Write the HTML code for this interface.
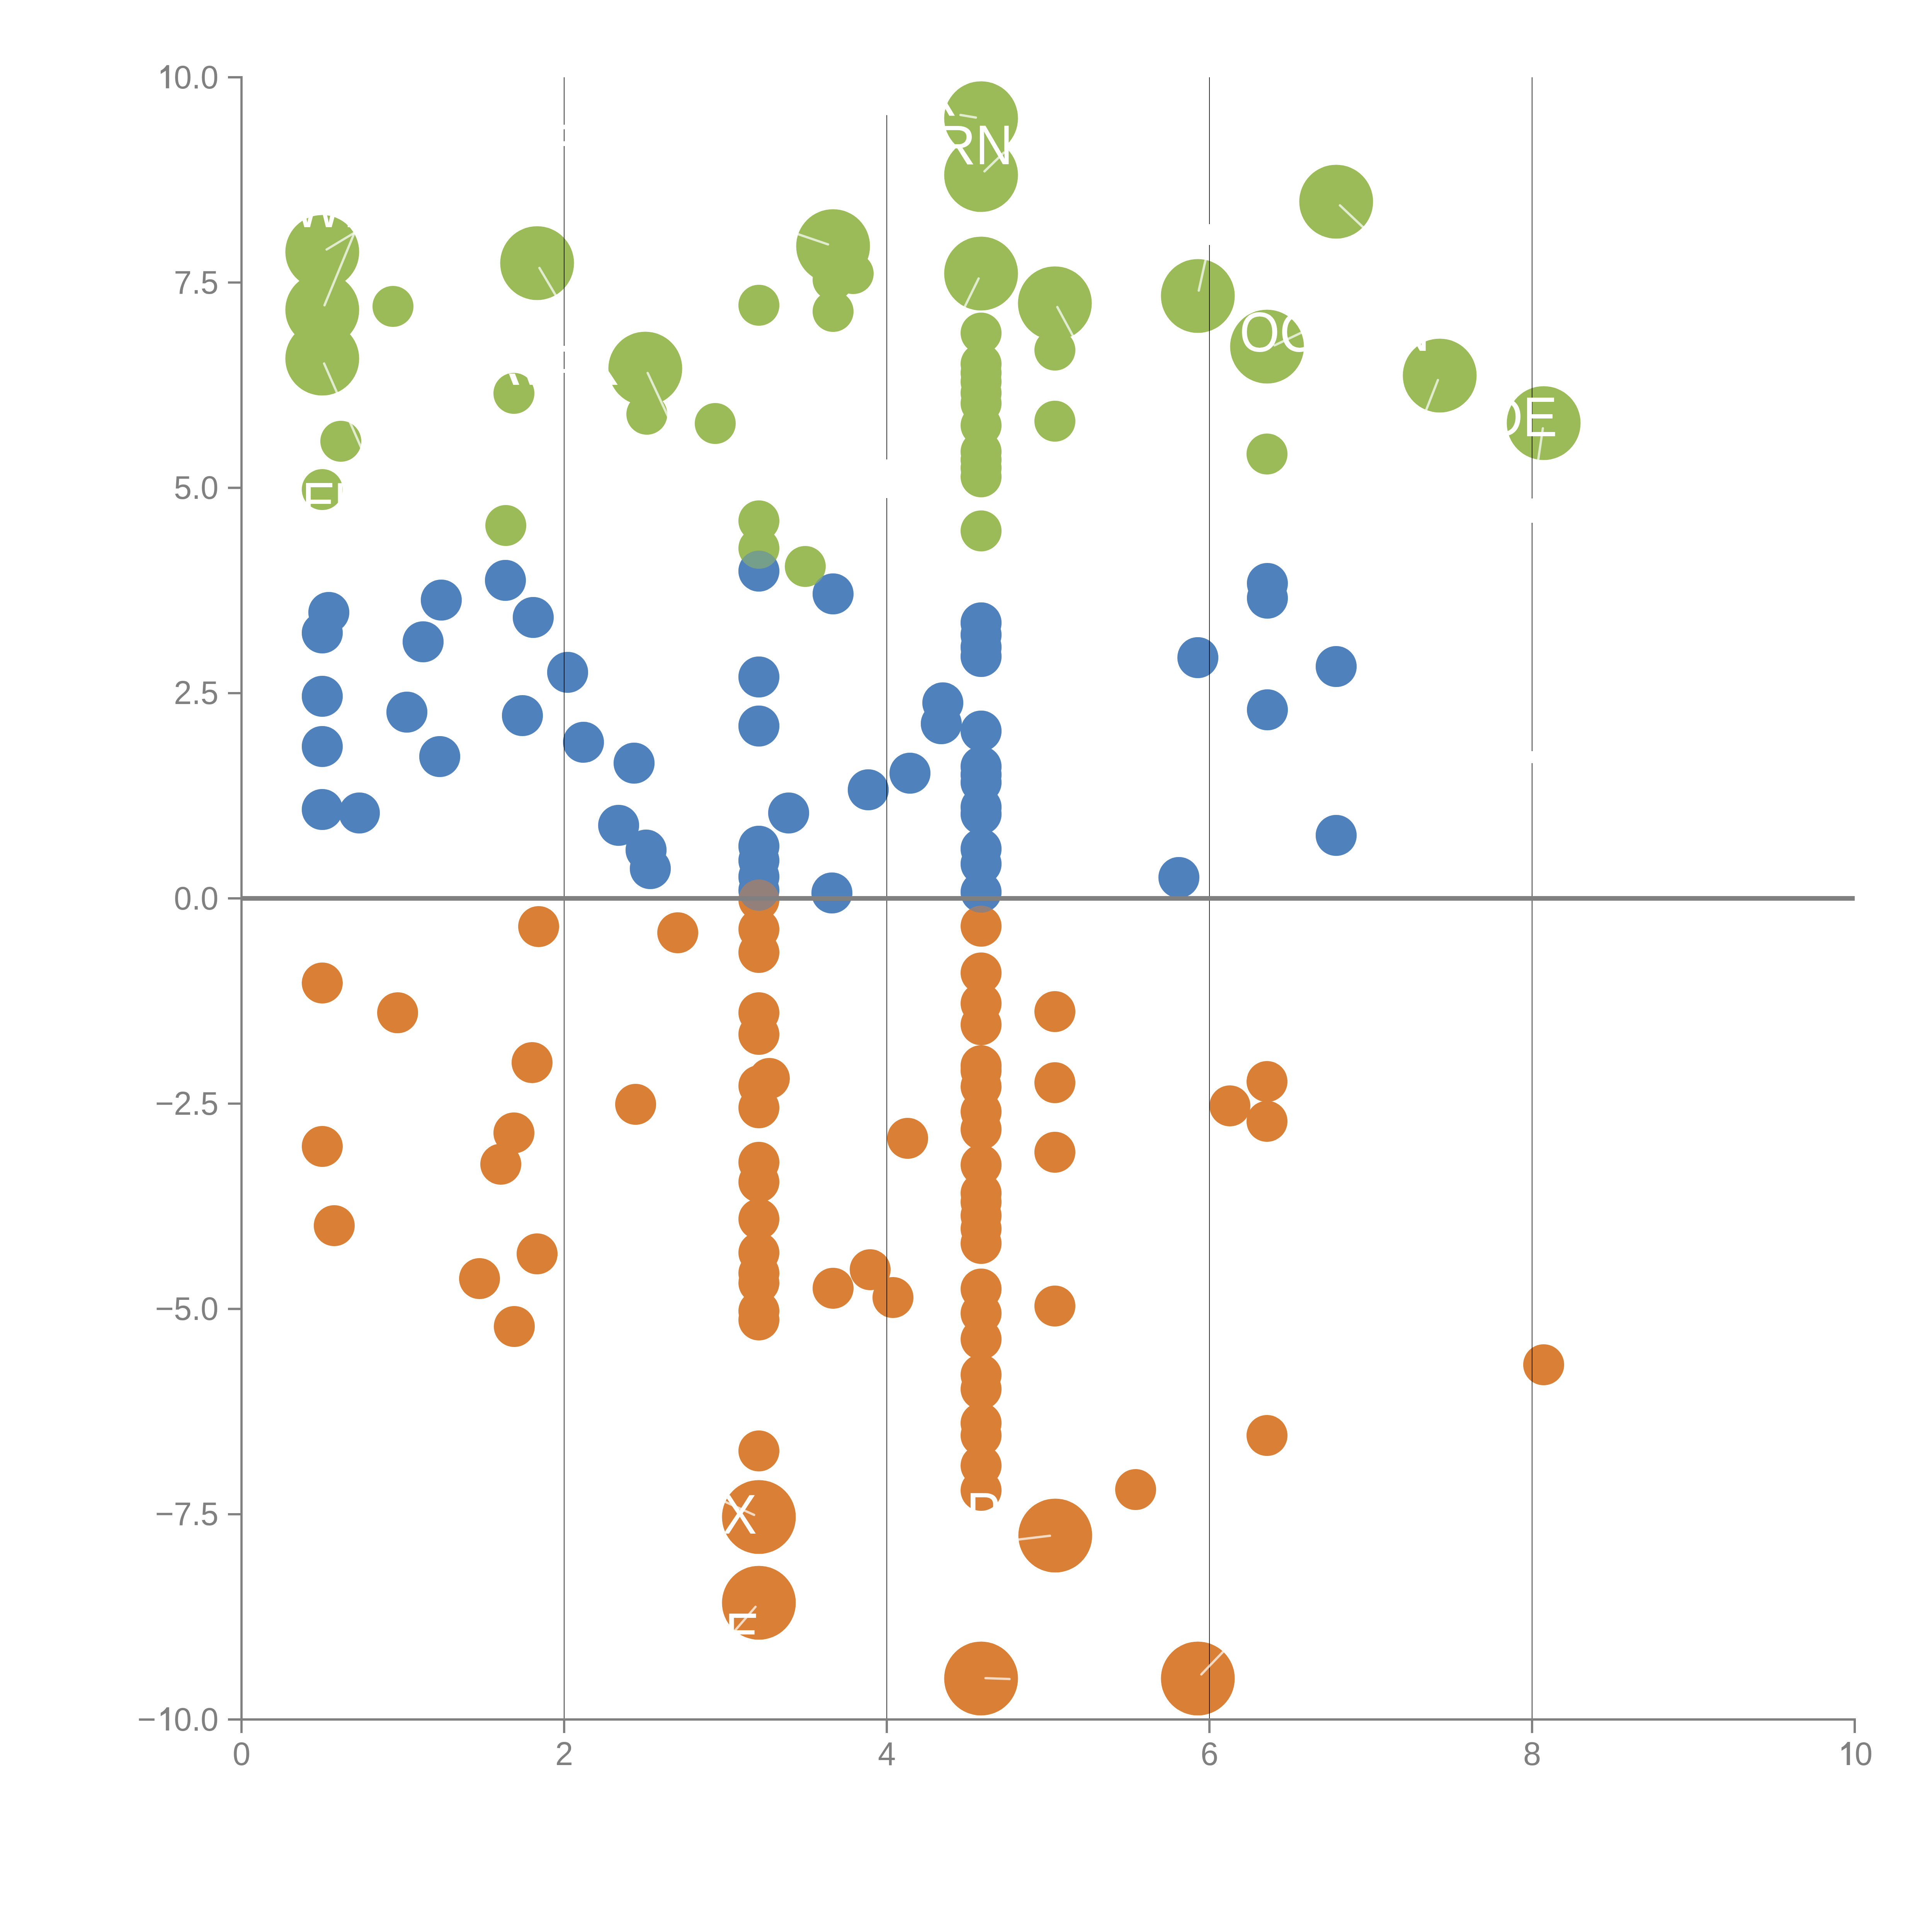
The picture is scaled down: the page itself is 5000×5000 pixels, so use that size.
<!DOCTYPE html><html><head><meta charset="utf-8"><style>html,body{margin:0;padding:0;background:#fff;width:5000px;height:5000px;overflow:hidden}</style></head><body><svg width="5000" height="5000" viewBox="0 0 5000 5000" style="display:block">
<rect width="5000" height="5000" fill="#FFFFFF"/>
<circle cx="1308.0" cy="1502.0" r="53" fill="#4F81BD"/>
<circle cx="1142.0" cy="1553.0" r="53" fill="#4F81BD"/>
<circle cx="851.0" cy="1585.0" r="53" fill="#4F81BD"/>
<circle cx="834.0" cy="1638.0" r="53" fill="#4F81BD"/>
<circle cx="1380.0" cy="1598.0" r="53" fill="#4F81BD"/>
<circle cx="1095.0" cy="1661.0" r="53" fill="#4F81BD"/>
<circle cx="1469.0" cy="1740.0" r="53" fill="#4F81BD"/>
<circle cx="834.0" cy="1802.0" r="53" fill="#4F81BD"/>
<circle cx="1053.0" cy="1843.0" r="53" fill="#4F81BD"/>
<circle cx="1352.0" cy="1852.0" r="53" fill="#4F81BD"/>
<circle cx="1510.0" cy="1921.0" r="53" fill="#4F81BD"/>
<circle cx="834.0" cy="1932.0" r="53" fill="#4F81BD"/>
<circle cx="1138.0" cy="1958.0" r="53" fill="#4F81BD"/>
<circle cx="834.0" cy="2095.0" r="53" fill="#4F81BD"/>
<circle cx="930.0" cy="2104.0" r="53" fill="#4F81BD"/>
<circle cx="1964.0" cy="1478.0" r="53" fill="#4F81BD"/>
<circle cx="2156.0" cy="1537.0" r="53" fill="#4F81BD"/>
<circle cx="1964.0" cy="1752.0" r="53" fill="#4F81BD"/>
<circle cx="1964.0" cy="1879.0" r="53" fill="#4F81BD"/>
<circle cx="1641.0" cy="1975.0" r="53" fill="#4F81BD"/>
<circle cx="2041.0" cy="2104.0" r="53" fill="#4F81BD"/>
<circle cx="2247.0" cy="2044.0" r="53" fill="#4F81BD"/>
<circle cx="2355.0" cy="2001.0" r="53" fill="#4F81BD"/>
<circle cx="2440.0" cy="1819.0" r="53" fill="#4F81BD"/>
<circle cx="2436.0" cy="1873.0" r="53" fill="#4F81BD"/>
<circle cx="2539.0" cy="1612.0" r="53" fill="#4F81BD"/>
<circle cx="2539.0" cy="1643.0" r="53" fill="#4F81BD"/>
<circle cx="2539.0" cy="1675.0" r="53" fill="#4F81BD"/>
<circle cx="2539.0" cy="1699.0" r="53" fill="#4F81BD"/>
<circle cx="2539.0" cy="1892.0" r="53" fill="#4F81BD"/>
<circle cx="2539.0" cy="1984.0" r="53" fill="#4F81BD"/>
<circle cx="2539.0" cy="2005.0" r="53" fill="#4F81BD"/>
<circle cx="2539.0" cy="2025.0" r="53" fill="#4F81BD"/>
<circle cx="2539.0" cy="2089.0" r="53" fill="#4F81BD"/>
<circle cx="2539.0" cy="2107.0" r="53" fill="#4F81BD"/>
<circle cx="2539.0" cy="2197.0" r="53" fill="#4F81BD"/>
<circle cx="2539.0" cy="2236.0" r="53" fill="#4F81BD"/>
<circle cx="2539.0" cy="2309.0" r="53" fill="#4F81BD"/>
<circle cx="1964.0" cy="2190.0" r="53" fill="#4F81BD"/>
<circle cx="1964.0" cy="2227.0" r="53" fill="#4F81BD"/>
<circle cx="1964.0" cy="2269.0" r="53" fill="#4F81BD"/>
<circle cx="1964.0" cy="2304.0" r="53" fill="#4F81BD"/>
<circle cx="2153.0" cy="2311.0" r="53" fill="#4F81BD"/>
<circle cx="3280.0" cy="1510.0" r="53" fill="#4F81BD"/>
<circle cx="3280.0" cy="1548.0" r="53" fill="#4F81BD"/>
<circle cx="3100.0" cy="1702.0" r="53" fill="#4F81BD"/>
<circle cx="3458.0" cy="1725.0" r="53" fill="#4F81BD"/>
<circle cx="3280.0" cy="1837.0" r="53" fill="#4F81BD"/>
<circle cx="3458.0" cy="2162.0" r="53" fill="#4F81BD"/>
<circle cx="3051.0" cy="2271.0" r="53" fill="#4F81BD"/>
<circle cx="1601.0" cy="2136.0" r="53" fill="#4F81BD"/>
<circle cx="1672.0" cy="2200.0" r="53" fill="#4F81BD"/>
<circle cx="1683.0" cy="2248.0" r="53" fill="#4F81BD"/>
<circle cx="834.0" cy="652.0" r="95.5" fill="#9BBB59"/>
<circle cx="834.0" cy="802.0" r="95.5" fill="#9BBB59"/>
<circle cx="834.0" cy="928.0" r="95.5" fill="#9BBB59"/>
<circle cx="1017.0" cy="793.0" r="53" fill="#9BBB59"/>
<circle cx="1390.0" cy="681.0" r="95.5" fill="#9BBB59"/>
<circle cx="1330.0" cy="1018.0" r="53" fill="#9BBB59"/>
<circle cx="882.0" cy="1142.0" r="53" fill="#9BBB59"/>
<circle cx="2156.0" cy="637.0" r="95.5" fill="#9BBB59"/>
<circle cx="2208.0" cy="708.0" r="53" fill="#9BBB59"/>
<circle cx="2156.0" cy="724.0" r="53" fill="#9BBB59"/>
<circle cx="2156.0" cy="806.0" r="53" fill="#9BBB59"/>
<circle cx="1964.0" cy="790.0" r="53" fill="#9BBB59"/>
<circle cx="1670.0" cy="954.0" r="95.5" fill="#9BBB59"/>
<circle cx="1674.0" cy="1072.0" r="53" fill="#9BBB59"/>
<circle cx="1851.0" cy="1096.0" r="53" fill="#9BBB59"/>
<circle cx="2539.0" cy="306.0" r="95.5" fill="#9BBB59"/>
<circle cx="2539.0" cy="453.0" r="95.5" fill="#9BBB59"/>
<circle cx="2539.0" cy="708.0" r="95.5" fill="#9BBB59"/>
<circle cx="2730.0" cy="785.0" r="95.5" fill="#9BBB59"/>
<circle cx="2539.0" cy="862.0" r="53" fill="#9BBB59"/>
<circle cx="2539.0" cy="942.0" r="53" fill="#9BBB59"/>
<circle cx="2539.0" cy="965.0" r="53" fill="#9BBB59"/>
<circle cx="2539.0" cy="988.0" r="53" fill="#9BBB59"/>
<circle cx="2539.0" cy="1017.0" r="53" fill="#9BBB59"/>
<circle cx="2539.0" cy="1044.0" r="53" fill="#9BBB59"/>
<circle cx="2539.0" cy="1101.0" r="53" fill="#9BBB59"/>
<circle cx="2539.0" cy="1169.0" r="53" fill="#9BBB59"/>
<circle cx="2539.0" cy="1190.0" r="53" fill="#9BBB59"/>
<circle cx="2539.0" cy="1211.0" r="53" fill="#9BBB59"/>
<circle cx="2539.0" cy="1234.0" r="53" fill="#9BBB59"/>
<circle cx="2730.0" cy="906.0" r="53" fill="#9BBB59"/>
<circle cx="2730.0" cy="1090.0" r="53" fill="#9BBB59"/>
<circle cx="3458.0" cy="522.0" r="95.5" fill="#9BBB59"/>
<circle cx="3100.0" cy="766.0" r="95.5" fill="#9BBB59"/>
<circle cx="3279.0" cy="897.0" r="95.5" fill="#9BBB59"/>
<circle cx="3726.0" cy="972.0" r="95.5" fill="#9BBB59"/>
<circle cx="3279.0" cy="1175.0" r="53" fill="#9BBB59"/>
<circle cx="3995.0" cy="1095.0" r="95.5" fill="#9BBB59"/>
<circle cx="834.0" cy="1267.0" r="53" fill="#9BBB59"/>
<circle cx="1309.0" cy="1360.0" r="53" fill="#9BBB59"/>
<circle cx="1964.0" cy="1348.0" r="53" fill="#9BBB59"/>
<circle cx="1964.0" cy="1419.0" r="53" fill="#9BBB59"/>
<circle cx="2084.0" cy="1466.0" r="53" fill="#9BBB59"/>
<circle cx="2539.0" cy="1374.0" r="53" fill="#9BBB59"/>
<circle cx="1754.0" cy="2414.0" r="53" fill="#D98036"/>
<circle cx="1394.0" cy="2398.0" r="53" fill="#D98036"/>
<circle cx="834.0" cy="2544.0" r="53" fill="#D98036"/>
<circle cx="1029.0" cy="2621.0" r="53" fill="#D98036"/>
<circle cx="1377.0" cy="2750.0" r="53" fill="#D98036"/>
<circle cx="1645.0" cy="2858.0" r="53" fill="#D98036"/>
<circle cx="1330.0" cy="2932.0" r="53" fill="#D98036"/>
<circle cx="1296.0" cy="3013.0" r="53" fill="#D98036"/>
<circle cx="834.0" cy="2967.0" r="53" fill="#D98036"/>
<circle cx="865.0" cy="3172.0" r="53" fill="#D98036"/>
<circle cx="1390.0" cy="3245.0" r="53" fill="#D98036"/>
<circle cx="1241.0" cy="3309.0" r="53" fill="#D98036"/>
<circle cx="1964.0" cy="2329.0" r="53" fill="#D98036"/>
<circle cx="1964.0" cy="2405.0" r="53" fill="#D98036"/>
<circle cx="1964.0" cy="2465.0" r="53" fill="#D98036"/>
<circle cx="1964.0" cy="2621.0" r="53" fill="#D98036"/>
<circle cx="1964.0" cy="2677.0" r="53" fill="#D98036"/>
<circle cx="1991.0" cy="2791.0" r="53" fill="#D98036"/>
<circle cx="1964.0" cy="2810.0" r="53" fill="#D98036"/>
<circle cx="1964.0" cy="2867.0" r="53" fill="#D98036"/>
<circle cx="1964.0" cy="3008.0" r="53" fill="#D98036"/>
<circle cx="1964.0" cy="3059.0" r="53" fill="#D98036"/>
<circle cx="1964.0" cy="3155.0" r="53" fill="#D98036"/>
<circle cx="1964.0" cy="3242.0" r="53" fill="#D98036"/>
<circle cx="1964.0" cy="3295.0" r="53" fill="#D98036"/>
<circle cx="1964.0" cy="3320.0" r="53" fill="#D98036"/>
<circle cx="1964.0" cy="3393.0" r="53" fill="#D98036"/>
<circle cx="1964.0" cy="3416.0" r="53" fill="#D98036"/>
<circle cx="2156.0" cy="3334.0" r="53" fill="#D98036"/>
<circle cx="2252.0" cy="3286.0" r="53" fill="#D98036"/>
<circle cx="2311.0" cy="3358.0" r="53" fill="#D98036"/>
<circle cx="2349.0" cy="2946.0" r="53" fill="#D98036"/>
<circle cx="2539.0" cy="2397.0" r="53" fill="#D98036"/>
<circle cx="2539.0" cy="2518.0" r="53" fill="#D98036"/>
<circle cx="2539.0" cy="2597.0" r="53" fill="#D98036"/>
<circle cx="2539.0" cy="2652.0" r="53" fill="#D98036"/>
<circle cx="2539.0" cy="2758.0" r="53" fill="#D98036"/>
<circle cx="2539.0" cy="2771.0" r="53" fill="#D98036"/>
<circle cx="2539.0" cy="2812.0" r="53" fill="#D98036"/>
<circle cx="2539.0" cy="2877.0" r="53" fill="#D98036"/>
<circle cx="2539.0" cy="2923.0" r="53" fill="#D98036"/>
<circle cx="2539.0" cy="3015.0" r="53" fill="#D98036"/>
<circle cx="2539.0" cy="3088.0" r="53" fill="#D98036"/>
<circle cx="2539.0" cy="3111.0" r="53" fill="#D98036"/>
<circle cx="2539.0" cy="3146.0" r="53" fill="#D98036"/>
<circle cx="2539.0" cy="3180.0" r="53" fill="#D98036"/>
<circle cx="2539.0" cy="3218.0" r="53" fill="#D98036"/>
<circle cx="2539.0" cy="3336.0" r="53" fill="#D98036"/>
<circle cx="2539.0" cy="3399.0" r="53" fill="#D98036"/>
<circle cx="2539.0" cy="3466.0" r="53" fill="#D98036"/>
<circle cx="2539.0" cy="3558.0" r="53" fill="#D98036"/>
<circle cx="2539.0" cy="3595.0" r="53" fill="#D98036"/>
<circle cx="2539.0" cy="3683.0" r="53" fill="#D98036"/>
<circle cx="2539.0" cy="3715.0" r="53" fill="#D98036"/>
<circle cx="2539.0" cy="3793.0" r="53" fill="#D98036"/>
<circle cx="2539.0" cy="3857.0" r="53" fill="#D98036"/>
<circle cx="2730.0" cy="2618.0" r="53" fill="#D98036"/>
<circle cx="2730.0" cy="2802.0" r="53" fill="#D98036"/>
<circle cx="2730.0" cy="2982.0" r="53" fill="#D98036"/>
<circle cx="2730.0" cy="3380.0" r="53" fill="#D98036"/>
<circle cx="2731.0" cy="3974.0" r="95.5" fill="#D98036"/>
<circle cx="3279.0" cy="2799.0" r="53" fill="#D98036"/>
<circle cx="3183.0" cy="2862.0" r="53" fill="#D98036"/>
<circle cx="3279.0" cy="2902.0" r="53" fill="#D98036"/>
<circle cx="3995.0" cy="3532.0" r="53" fill="#D98036"/>
<circle cx="3279.0" cy="3715.0" r="53" fill="#D98036"/>
<circle cx="1331.0" cy="3433.0" r="53" fill="#D98036"/>
<circle cx="1964.0" cy="3755.0" r="53" fill="#D98036"/>
<circle cx="1964.0" cy="3926.0" r="95.5" fill="#D98036"/>
<circle cx="1964.0" cy="4148.0" r="95.5" fill="#D98036"/>
<circle cx="2939.0" cy="3855.0" r="53" fill="#D98036"/>
<circle cx="2539.0" cy="4344.0" r="95.5" fill="#D98036"/>
<circle cx="3100.0" cy="4344.0" r="95.5" fill="#D98036"/>
<g opacity="0.5">
<circle cx="1308.0" cy="1502.0" r="53" fill="#4F81BD"/>
<circle cx="1142.0" cy="1553.0" r="53" fill="#4F81BD"/>
<circle cx="851.0" cy="1585.0" r="53" fill="#4F81BD"/>
<circle cx="834.0" cy="1638.0" r="53" fill="#4F81BD"/>
<circle cx="1380.0" cy="1598.0" r="53" fill="#4F81BD"/>
<circle cx="1095.0" cy="1661.0" r="53" fill="#4F81BD"/>
<circle cx="1469.0" cy="1740.0" r="53" fill="#4F81BD"/>
<circle cx="834.0" cy="1802.0" r="53" fill="#4F81BD"/>
<circle cx="1053.0" cy="1843.0" r="53" fill="#4F81BD"/>
<circle cx="1352.0" cy="1852.0" r="53" fill="#4F81BD"/>
<circle cx="1510.0" cy="1921.0" r="53" fill="#4F81BD"/>
<circle cx="834.0" cy="1932.0" r="53" fill="#4F81BD"/>
<circle cx="1138.0" cy="1958.0" r="53" fill="#4F81BD"/>
<circle cx="834.0" cy="2095.0" r="53" fill="#4F81BD"/>
<circle cx="930.0" cy="2104.0" r="53" fill="#4F81BD"/>
<circle cx="1964.0" cy="1478.0" r="53" fill="#4F81BD"/>
<circle cx="2156.0" cy="1537.0" r="53" fill="#4F81BD"/>
<circle cx="1964.0" cy="1752.0" r="53" fill="#4F81BD"/>
<circle cx="1964.0" cy="1879.0" r="53" fill="#4F81BD"/>
<circle cx="1641.0" cy="1975.0" r="53" fill="#4F81BD"/>
<circle cx="2041.0" cy="2104.0" r="53" fill="#4F81BD"/>
<circle cx="2247.0" cy="2044.0" r="53" fill="#4F81BD"/>
<circle cx="2355.0" cy="2001.0" r="53" fill="#4F81BD"/>
<circle cx="2440.0" cy="1819.0" r="53" fill="#4F81BD"/>
<circle cx="2436.0" cy="1873.0" r="53" fill="#4F81BD"/>
<circle cx="2539.0" cy="1612.0" r="53" fill="#4F81BD"/>
<circle cx="2539.0" cy="1643.0" r="53" fill="#4F81BD"/>
<circle cx="2539.0" cy="1675.0" r="53" fill="#4F81BD"/>
<circle cx="2539.0" cy="1699.0" r="53" fill="#4F81BD"/>
<circle cx="2539.0" cy="1892.0" r="53" fill="#4F81BD"/>
<circle cx="2539.0" cy="1984.0" r="53" fill="#4F81BD"/>
<circle cx="2539.0" cy="2005.0" r="53" fill="#4F81BD"/>
<circle cx="2539.0" cy="2025.0" r="53" fill="#4F81BD"/>
<circle cx="2539.0" cy="2089.0" r="53" fill="#4F81BD"/>
<circle cx="2539.0" cy="2107.0" r="53" fill="#4F81BD"/>
<circle cx="2539.0" cy="2197.0" r="53" fill="#4F81BD"/>
<circle cx="2539.0" cy="2236.0" r="53" fill="#4F81BD"/>
<circle cx="2539.0" cy="2309.0" r="53" fill="#4F81BD"/>
<circle cx="1964.0" cy="2190.0" r="53" fill="#4F81BD"/>
<circle cx="1964.0" cy="2227.0" r="53" fill="#4F81BD"/>
<circle cx="1964.0" cy="2269.0" r="53" fill="#4F81BD"/>
<circle cx="1964.0" cy="2304.0" r="53" fill="#4F81BD"/>
<circle cx="2153.0" cy="2311.0" r="53" fill="#4F81BD"/>
<circle cx="3280.0" cy="1510.0" r="53" fill="#4F81BD"/>
<circle cx="3280.0" cy="1548.0" r="53" fill="#4F81BD"/>
<circle cx="3100.0" cy="1702.0" r="53" fill="#4F81BD"/>
<circle cx="3458.0" cy="1725.0" r="53" fill="#4F81BD"/>
<circle cx="3280.0" cy="1837.0" r="53" fill="#4F81BD"/>
<circle cx="3458.0" cy="2162.0" r="53" fill="#4F81BD"/>
<circle cx="3051.0" cy="2271.0" r="53" fill="#4F81BD"/>
<circle cx="1601.0" cy="2136.0" r="53" fill="#4F81BD"/>
<circle cx="1672.0" cy="2200.0" r="53" fill="#4F81BD"/>
<circle cx="1683.0" cy="2248.0" r="53" fill="#4F81BD"/>
</g>
<line x1="1460.0" y1="200" x2="1460.0" y2="4450" stroke="#000" stroke-width="1.6"/>
<line x1="2295.0" y1="200" x2="2295.0" y2="4450" stroke="#000" stroke-width="1.6"/>
<line x1="3130.0" y1="200" x2="3130.0" y2="4450" stroke="#000" stroke-width="1.6"/>
<line x1="3965.0" y1="200" x2="3965.0" y2="4450" stroke="#000" stroke-width="1.6"/>
<rect x="1456" y="322.7" width="8" height="11.8" fill="#FFFFFF"/>
<rect x="1456" y="365.5" width="8" height="12.5" fill="#FFFFFF"/>
<rect x="1456" y="895" width="8" height="15.0" fill="#FFFFFF"/>
<rect x="1456" y="955" width="8" height="10.0" fill="#FFFFFF"/>
<rect x="2291" y="197" width="8" height="101.0" fill="#FFFFFF"/>
<rect x="2291" y="1189" width="8" height="100.0" fill="#FFFFFF"/>
<rect x="3126" y="580" width="8" height="54.0" fill="#FFFFFF"/>
<rect x="3961" y="1290" width="8" height="63.0" fill="#FFFFFF"/>
<rect x="3961" y="1944" width="8" height="31.0" fill="#FFFFFF"/>
<g stroke="#FFFFFF" stroke-opacity="0.7" stroke-width="6" stroke-linecap="round" fill="none">
<line x1="845.3" y1="645.7" x2="929.4" y2="595.0"/>
<line x1="839.8" y1="790" x2="922.7" y2="589.3"/>
<line x1="838.8" y1="940.7" x2="936.6" y2="1162.8"/>
<line x1="1396" y1="693.5" x2="1443.8" y2="773.8"/>
<line x1="2142.9" y1="632.5" x2="2052.4" y2="601.7"/>
<line x1="1676.2" y1="965.3" x2="1732.7" y2="1086.1"/>
<line x1="2525.5" y1="304.3" x2="2485.7" y2="297.5"/>
<line x1="2547.8" y1="443.5" x2="2597.5" y2="395.3"/>
<line x1="2532.7" y1="720.6" x2="2490.5" y2="806.5"/>
<line x1="2736.4" y1="794.7" x2="2782.5" y2="879.9"/>
<line x1="3467.8" y1="531.5" x2="3538.1" y2="598.0"/>
<line x1="3102.4" y1="752" x2="3123.0" y2="659.1"/>
<line x1="3298.6" y1="893.8" x2="3381.0" y2="854.7"/>
<line x1="3721.3" y1="983.5" x2="3686.1" y2="1073.4"/>
<line x1="3992.9" y1="1108.4" x2="3979.0" y2="1203.0"/>
<line x1="1951.6" y1="3920.5" x2="1863.0" y2="3880.5"/>
<line x1="1955.3" y1="4158.4" x2="1891.4" y2="4232.3"/>
<line x1="2717.3" y1="3974.6" x2="2621.4" y2="3985.9"/>
<line x1="2550.5" y1="4343" x2="2612.6" y2="4345.3"/>
<line x1="3109" y1="4333.3" x2="3175.1" y2="4264.6"/>
</g>
<text transform="translate(759.9,588) scale(0.92,1)" font-family="Liberation Sans" font-size="145" fill="#FFFFFF">W</text>
<text transform="translate(781.2,1349.8) scale(0.9,1)" font-family="Liberation Sans" font-size="145" fill="#FFFFFF">E</text>
<text transform="translate(863.1,1349.8) scale(0.87,1)" font-family="Liberation Sans" font-size="145" fill="#FFFFFF">I</text>
<text transform="translate(2381.1,298.5) scale(0.92,1)" font-family="Liberation Sans" font-size="145" fill="#FFFFFF">R</text>
<text transform="translate(2421.1,425) scale(1.0,1)" font-family="Liberation Sans" font-size="145" fill="#FFFFFF">R</text>
<text transform="translate(2525.1,425) scale(0.92,1)" font-family="Liberation Sans" font-size="145" fill="#FFFFFF">N</text>
<text transform="translate(3604.2,907.8) scale(0.92,1)" font-family="Liberation Sans" font-size="145" fill="#FFFFFF">N</text>
<text transform="translate(3207.9,909.5) scale(0.92,1)" font-family="Liberation Sans" font-size="145" fill="#FFFFFF">O</text>
<text transform="translate(3311.6,909.5) scale(0.92,1)" font-family="Liberation Sans" font-size="145" fill="#FFFFFF">C</text>
<text transform="translate(3844.9,1128.6) scale(0.92,1)" font-family="Liberation Sans" font-size="145" fill="#FFFFFF">D</text>
<text transform="translate(3941.3,1128.6) scale(0.92,1)" font-family="Liberation Sans" font-size="145" fill="#FFFFFF">E</text>
<text transform="translate(1869.7,3969) scale(0.92,1)" font-family="Liberation Sans" font-size="145" fill="#FFFFFF">X</text>
<text transform="translate(1876.1,4276) scale(0.92,1)" font-family="Liberation Sans" font-size="145" fill="#FFFFFF">E</text>
<text transform="translate(2501.1,3964) scale(0.92,1)" font-family="Liberation Sans" font-size="145" fill="#FFFFFF">P</text>
<rect x="899.8" y="520" width="30" height="68" fill="#FFFFFF"/>
<polygon points="1316.9,966.7 1332.6,966.7 1343.9,996 1328.3,996" fill="#FFFFFF"/>
<polygon points="1356,955 1420,955 1420,996 1371,996" fill="#FFFFFF"/>
<polygon points="1540,930 1555,930 1598.7,996 1540,996" fill="#FFFFFF"/>
<line x1="625" y1="2325" x2="4800" y2="2325" stroke="#808080" stroke-width="11.8"/>
<path d="M590 200 H625 V4450 H4800 V4485" fill="none" stroke="#808080" stroke-width="5.8" stroke-linejoin="miter" stroke-linecap="butt"/>
<line x1="590" y1="200.0" x2="625" y2="200.0" stroke="#808080" stroke-width="5.8"/>
<g transform="translate(565.4,228.5) scale(0.965,1)">
<text x="-167.4" y="0" font-family="Liberation Sans" font-size="86" fill="#808080"> 0.0</text>
<path transform="translate(-167.4,0.0)" d="M28.4,-60 L35.1,-60 L35.1,0 L26.3,0 L26.3,-45.4 L12.4,-37.1 L12.4,-45.8 Q22,-50.5 28.4,-60 Z" fill="#808080"/>
</g>
<line x1="590" y1="731.2" x2="625" y2="731.2" stroke="#808080" stroke-width="5.8"/>
<g transform="translate(565.4,759.8) scale(0.965,1)">
<text x="-119.6" y="0" font-family="Liberation Sans" font-size="86" fill="#808080">7.5</text>
</g>
<line x1="590" y1="1262.5" x2="625" y2="1262.5" stroke="#808080" stroke-width="5.8"/>
<g transform="translate(565.4,1291.0) scale(0.965,1)">
<text x="-119.6" y="0" font-family="Liberation Sans" font-size="86" fill="#808080">5.0</text>
</g>
<line x1="590" y1="1793.8" x2="625" y2="1793.8" stroke="#808080" stroke-width="5.8"/>
<g transform="translate(565.4,1822.2) scale(0.965,1)">
<text x="-119.6" y="0" font-family="Liberation Sans" font-size="86" fill="#808080">2.5</text>
</g>
<line x1="590" y1="2325.0" x2="625" y2="2325.0" stroke="#808080" stroke-width="5.8"/>
<g transform="translate(565.4,2353.5) scale(0.965,1)">
<text x="-119.6" y="0" font-family="Liberation Sans" font-size="86" fill="#808080">0.0</text>
</g>
<line x1="590" y1="2856.2" x2="625" y2="2856.2" stroke="#808080" stroke-width="5.8"/>
<g transform="translate(565.4,2884.8) scale(0.965,1)">
<text x="-169.8" y="0" font-family="Liberation Sans" font-size="86" fill="#808080">−2.5</text>
</g>
<line x1="590" y1="3387.5" x2="625" y2="3387.5" stroke="#808080" stroke-width="5.8"/>
<g transform="translate(565.4,3416.0) scale(0.965,1)">
<text x="-169.8" y="0" font-family="Liberation Sans" font-size="86" fill="#808080">−5.0</text>
</g>
<line x1="590" y1="3918.8" x2="625" y2="3918.8" stroke="#808080" stroke-width="5.8"/>
<g transform="translate(565.4,3947.2) scale(0.965,1)">
<text x="-169.8" y="0" font-family="Liberation Sans" font-size="86" fill="#808080">−7.5</text>
</g>
<line x1="590" y1="4450.0" x2="625" y2="4450.0" stroke="#808080" stroke-width="5.8"/>
<g transform="translate(565.4,4478.5) scale(0.965,1)">
<text x="-217.6" y="0" font-family="Liberation Sans" font-size="86" fill="#808080">− 0.0</text>
<path transform="translate(-167.4,0.0)" d="M28.4,-60 L35.1,-60 L35.1,0 L26.3,0 L26.3,-45.4 L12.4,-37.1 L12.4,-45.8 Q22,-50.5 28.4,-60 Z" fill="#808080"/>
</g>
<line x1="625.0" y1="4450" x2="625.0" y2="4485" stroke="#808080" stroke-width="5.8"/>
<g transform="translate(625.0,4568.0) scale(0.965,1)">
<text x="-23.9" y="0" font-family="Liberation Sans" font-size="86" fill="#808080">0</text>
</g>
<line x1="1460.0" y1="4450" x2="1460.0" y2="4485" stroke="#808080" stroke-width="5.8"/>
<g transform="translate(1460.0,4568.0) scale(0.965,1)">
<text x="-23.9" y="0" font-family="Liberation Sans" font-size="86" fill="#808080">2</text>
</g>
<line x1="2295.0" y1="4450" x2="2295.0" y2="4485" stroke="#808080" stroke-width="5.8"/>
<g transform="translate(2295.0,4568.0) scale(0.965,1)">
<text x="-23.9" y="0" font-family="Liberation Sans" font-size="86" fill="#808080">4</text>
</g>
<line x1="3130.0" y1="4450" x2="3130.0" y2="4485" stroke="#808080" stroke-width="5.8"/>
<g transform="translate(3130.0,4568.0) scale(0.965,1)">
<text x="-23.9" y="0" font-family="Liberation Sans" font-size="86" fill="#808080">6</text>
</g>
<line x1="3965.0" y1="4450" x2="3965.0" y2="4485" stroke="#808080" stroke-width="5.8"/>
<g transform="translate(3965.0,4568.0) scale(0.965,1)">
<text x="-23.9" y="0" font-family="Liberation Sans" font-size="86" fill="#808080">8</text>
</g>
<line x1="4800.0" y1="4450" x2="4800.0" y2="4485" stroke="#808080" stroke-width="5.8"/>
<g transform="translate(4800.0,4568.0) scale(0.965,1)">
<text x="-47.8" y="0" font-family="Liberation Sans" font-size="86" fill="#808080"> 0</text>
<path transform="translate(-47.8,0.0)" d="M28.4,-60 L35.1,-60 L35.1,0 L26.3,0 L26.3,-45.4 L12.4,-37.1 L12.4,-45.8 Q22,-50.5 28.4,-60 Z" fill="#808080"/>
</g>
</svg></body></html>
